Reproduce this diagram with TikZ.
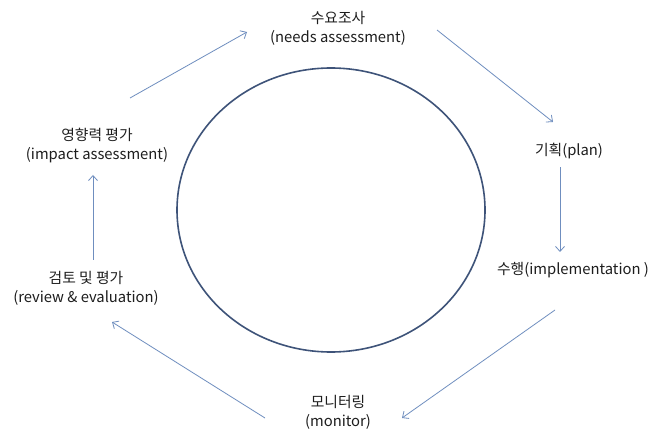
\documentclass[tikz,border=0pt]{standalone}
\usepackage{fontspec}
\setmainfont{Noto Sans CJK KR}
\usetikzlibrary{arrows.meta}
\definecolor{arrowblue}{HTML}{6F8EBF}
\definecolor{ringblue}{HTML}{3E5379}
\definecolor{txt}{HTML}{1E1E1E}
\begin{document}
\begin{tikzpicture}[x=1pt,y=-1pt,
  lbl/.style={inner sep=0pt,align=center,text=txt,font=\fontsize{14.8}{19}\selectfont},
  arr/.style={draw=arrowblue,line width=0.8pt,-{Straight Barb[length=5pt,width=9pt,line width=0.8pt]}}]
\useasboundingbox[fill=white] (0,0) rectangle (650,435);
\draw[ringblue,line width=1.6pt] (331,210) ellipse [x radius=154,y radius=142];
\node[lbl] (needs) at (338,28) {수요조사\\(needs assessment)};
\node[lbl] (plan) at (569,151) {기획(plan)};
\node[lbl] (impl) at (573,270) {수행(implementation )};
\node[lbl] (monitor) at (338,412) {모니터링\\(monitor)};
\node[lbl] (review) at (86,288) {검토 및 평가\\(review \& evaluation)};
\node[lbl] (impact) at (97,146) {영향력 평가\\(impact assessment)};
\coordinate (a1s) at (130,98);  \coordinate (a1e) at (247,32);
\coordinate (a2s) at (437,30);  \coordinate (a2e) at (553,122);
\coordinate (a4s) at (555,310); \coordinate (a4e) at (402,418);
\coordinate (a5s) at (265,418); \coordinate (a5e) at (112,322);
\draw[arr] (a1s) -- (a1e);
\draw[arr] (a2s) -- (a2e);
\draw[arr] (plan.south -| 560,0) ++(0,8) -- (560,252);
\draw[arr] (a4s) -- (a4e);
\draw[arr] (a5s) -- (a5e);
\draw[arr] (93,260) -- (93,175);
\end{tikzpicture}
\end{document}
